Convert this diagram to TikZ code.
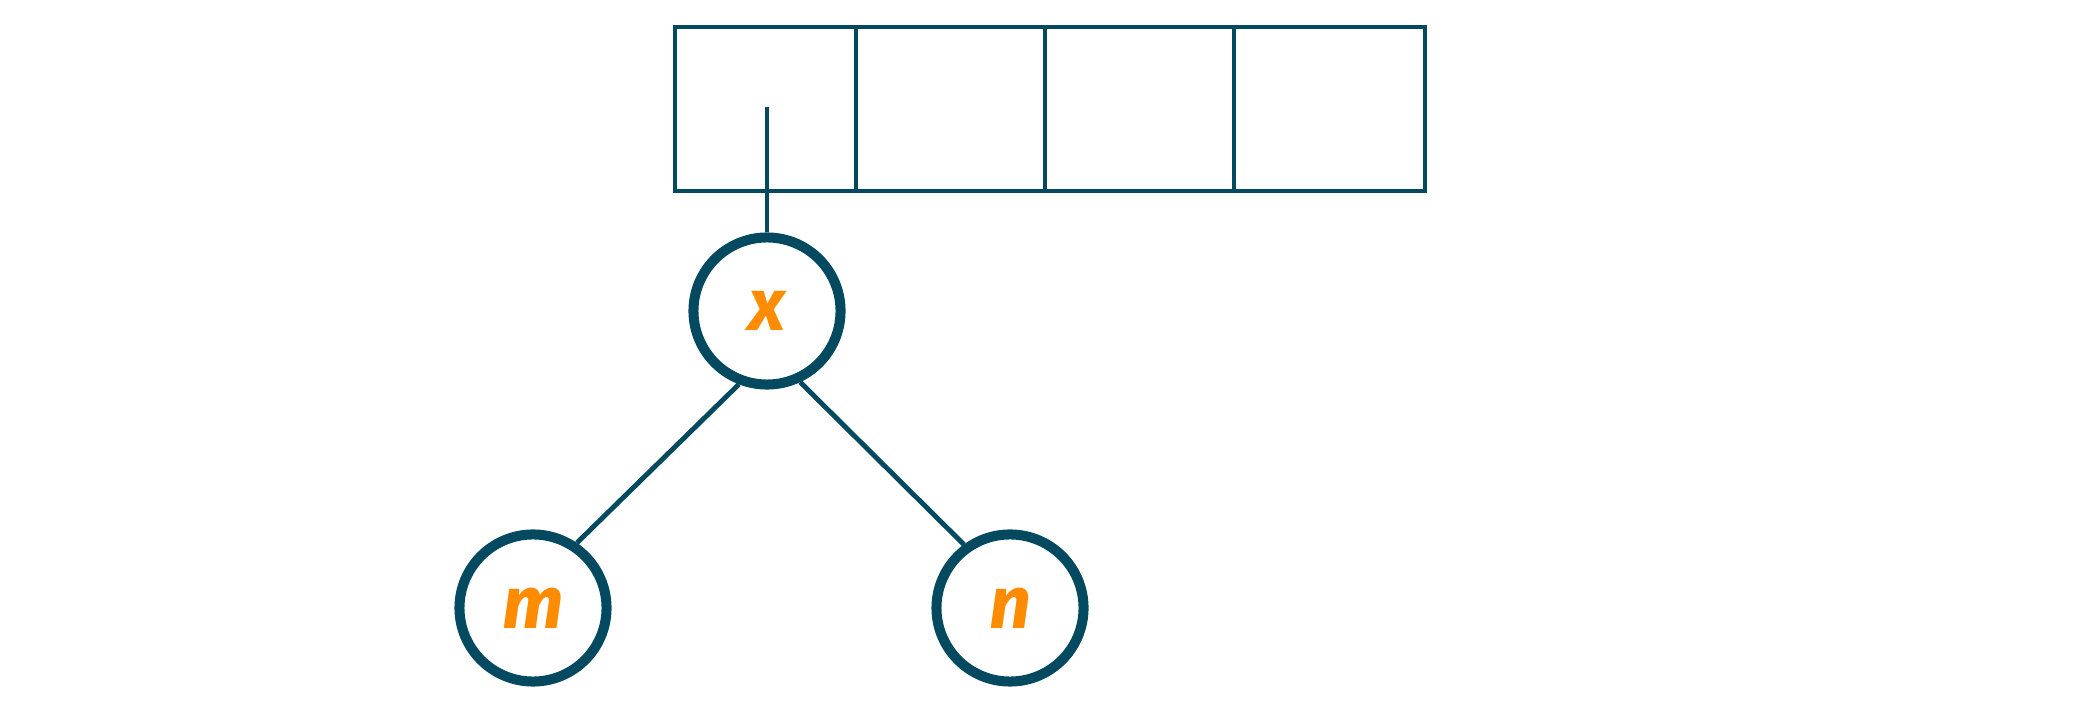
\documentclass[tikz,border=0pt]{standalone}
\usepackage{fontspec}
\newfontfamily\letterfont{Fira Sans}
\definecolor{teal}{RGB}{3,74,96}
\definecolor{orng}{RGB}{255,140,0}
\begin{document}
\begin{tikzpicture}[x=0.01cm,y=-0.01cm,
  cellbox/.style={draw=teal,line width=1.15pt},
  vnode/.style={circle,draw=teal,line width=2.85pt,minimum size=1.47cm,inner sep=0pt,
    font=\letterfont\bfseries\itshape\fontsize{21}{21}\selectfont,text=orng},
  link/.style={draw=teal,line width=1.4pt}]
\useasboundingbox (0,0) rectangle (2094,728);
\draw[cellbox] (675,27) rectangle (856,191);
\draw[cellbox] (856,27) rectangle (1045,191);
\draw[cellbox] (1045,27) rectangle (1234,191);
\draw[cellbox] (1234,27) rectangle (1425,191);
\node[vnode] (x) at (767,311) {x};
\node[vnode] (m) at (533,608) {m};
\node[vnode] (n) at (1010,608) {n};
\coordinate (ptr) at (767,107);
\draw[link] (ptr) -- (x.north);
\draw[link] (x.249) -- (m.56);
\draw[link] (x.295) -- (n.126);
\end{tikzpicture}
\end{document}
